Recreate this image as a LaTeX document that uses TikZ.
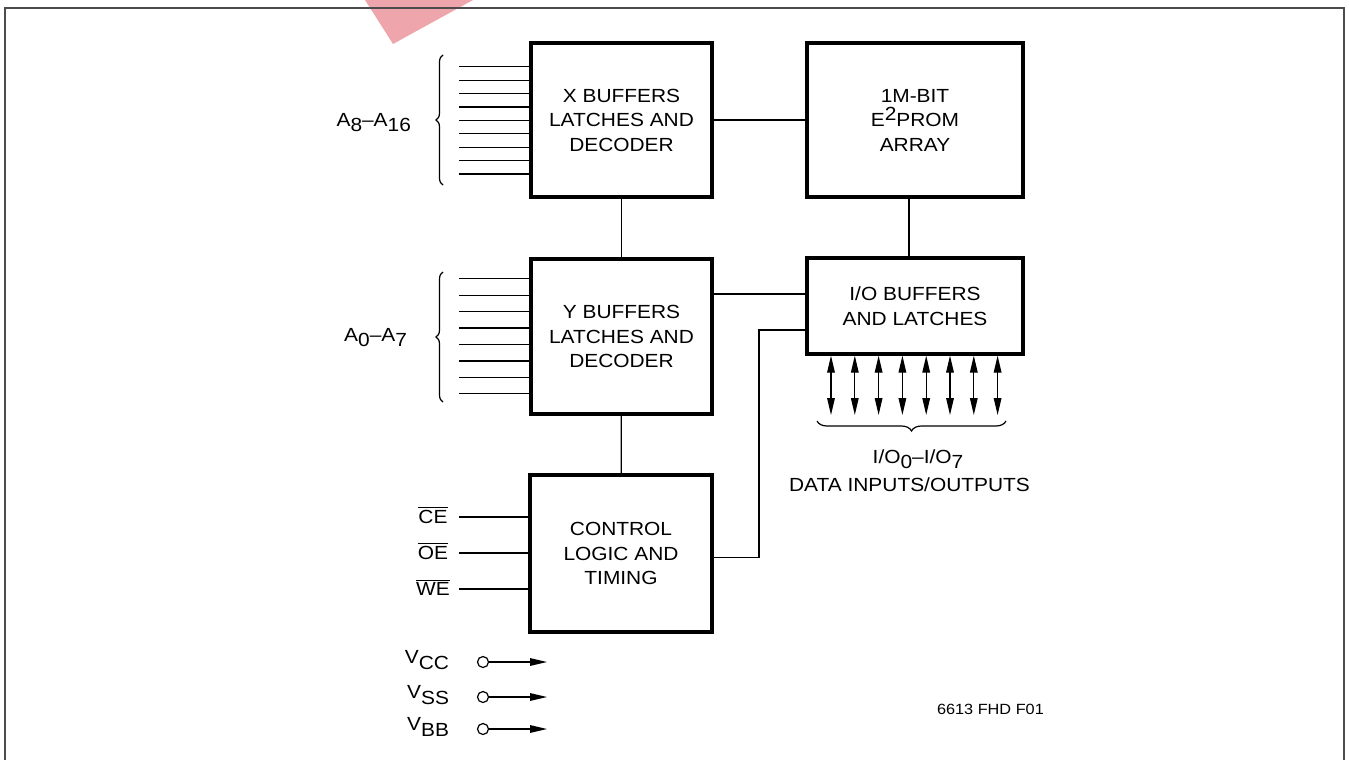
\documentclass[tikz,border=0pt]{standalone}
\usepackage{fontspec}
\setmainfont{Liberation Sans}[FakeStretch=1.1]
\usetikzlibrary{arrows.meta,decorations.pathreplacing}

\newcommand{\lowr}[1]{\raisebox{-0.55ex}{#1}}
\newcommand{\highr}[1]{\raisebox{0.6ex}{#1}}

\begin{document}
\begin{tikzpicture}[x=0.5pt,y=-0.5pt,
        every node/.style={font=\fontsize{9.5}{12.25}\selectfont},
        blk/.style={draw,line width=1.6pt,align=center,inner sep=0pt},
        wire/.style={line width=0.6pt},
        port/.style={circle,draw,line width=0.6pt,inner sep=0pt,minimum size=5.5pt},
        tip/.style={-{Triangle[length=8.5pt,width=3.8pt]}},
        dbl/.style={{Triangle[length=8.5pt,width=3.8pt]}-{Triangle[length=8.5pt,width=3.8pt]}},
        brc/.style={wire,decorate,decoration={brace,amplitude=#1}}]
        \useasboundingbox (0,0) rectangle (1349,760);

        % watermark and frame
        \fill[fill={rgb,255:red,214;green,40;blue,55},opacity=0.42] (365,0) -- (393,44) -- (473,0) -- cycle;
        \draw[line width=1pt,black!70] (5,760) -- (5,8) -- (1344,8) -- (1344,760);

        % blocks
        \node[blk,minimum width=90.5pt,minimum height=77pt] (xbuf) at (621.5,120) {X BUFFERS\\LATCHES AND\\DECODER};
        \node[blk,minimum width=108pt,minimum height=77pt] (prom) at (915,120) {1M-BIT\\E\highr{2}PROM\\ARRAY};
        \node[blk,minimum width=90.5pt,minimum height=77.5pt] (ybuf) at (621.5,336.5) {Y BUFFERS\\LATCHES AND\\DECODER};
        \node[blk,minimum width=108pt,minimum height=48pt] (iobuf) at (915,306) {I/O BUFFERS\\AND LATCHES};
        \node[blk,minimum width=91pt,minimum height=78.5pt] (ctrl) at (621,553.5) {CONTROL\\LOGIC AND\\TIMING};

        % links between blocks
        \draw[wire] (xbuf) -- (prom);
        \draw[wire] (xbuf) -- (ybuf);
        \draw[wire] (ybuf) -- (ctrl);
        \draw[wire] ([xshift=-3pt]prom.south) -- ([xshift=-3pt]iobuf.north);
        \draw[wire] ([yshift=21.25pt]ybuf.east) -- ([yshift=21.25pt]ybuf.east -| iobuf.west);
        \coordinate (bend) at (759,330);
        \draw[wire] ([yshift=-2pt]ctrl.east) -| (bend) -- (bend -| iobuf.west);

        % address inputs
        \foreach \i in {0,...,8} {
            \coordinate (xa\i) at (459,{66.7+13.4*\i});
            \draw[wire] (xa\i) -- (xa\i -| xbuf.west);
        }
        \foreach \i in {0,...,7} {
            \coordinate (ya\i) at (459,{278.7+16.45*\i});
            \draw[wire] (ya\i) -- (ya\i -| ybuf.west);
        }
        \draw[brc=3.5pt] (443,185) -- (443,55);
        \draw[brc=3.5pt] (443,402) -- (443,272);
        \node[anchor=base east] (xlbl) at (418,126) {A\lowr{8}--A\lowr{16}};
        \node[anchor=base east] (ylbl) at (414,341) {A\lowr{0}--A\lowr{7}};

        % control inputs
        \foreach \nm/\y in {CE/517,OE/553,WE/589} {
            \node[anchor=base] (l\nm) at (433,{\y+6.8}) {$\overline{\mbox{\nm}}$};
            \coordinate (s\nm) at (459,\y);
            \draw[wire] (s\nm) -- (s\nm -| ctrl.west);
        }

        % supply pins
        \foreach \nm/\y/\sb in {vcc/662/CC,vss/697/SS,vbb/729/BB} {
            \node[anchor=base east] (\nm) at (456,{\y+1.5}) {V\lowr{\sb}};
            \node[port] (\nm c) at (483,\y) {};
            \coordinate (\nm e) at (547,\y);
            \draw[wire,tip] (\nm c) -- (\nm e);
        }

        % data lines
        \foreach \i in {0,...,7} {
            \coordinate (d\i) at ({831+23.8*\i},415);
            \draw[wire,dbl] (d\i |- iobuf.south) -- (d\i);
        }
        \draw[brc=5pt] (1006,421) -- (817,421);
        \node[anchor=base] (iolbl) at (918,463) {I/O\lowr{0}--I/O\lowr{7}};
        \node[anchor=base] (datalbl) at (909.5,491) {DATA INPUTS/OUTPUTS};

        \node[anchor=base west,font=\fontsize{7.4}{9}\selectfont] (figno) at (930,714) {6613 FHD F01};
    \end{tikzpicture}
\end{document}
